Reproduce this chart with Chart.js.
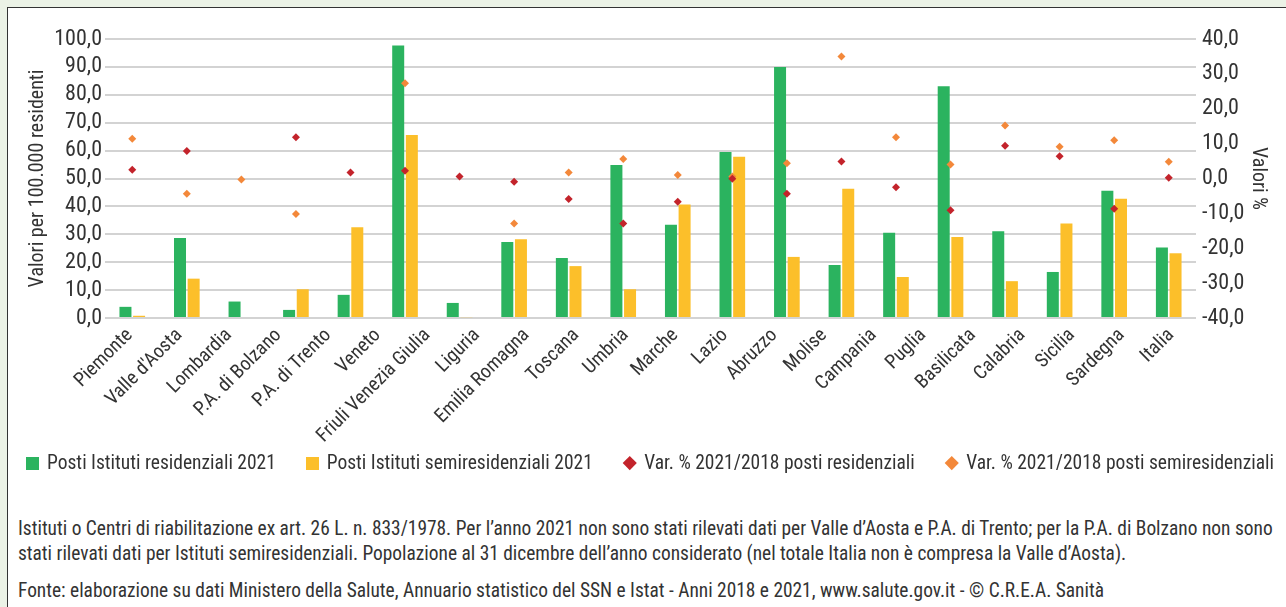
<!DOCTYPE html>
<html lang="it">
<head>
<meta charset="utf-8">
<script src="https://cdn.jsdelivr.net/npm/chart.js@4.4.1/dist/chart.umd.min.js"></script>
<style>
  html, body { margin: 0; padding: 0; background: #ebf2e6; width: 1286px; height: 607px; overflow: hidden; }
  #panel { position: absolute; left: 7px; top: 7px; width: 1290px; height: 610px; background: #fff; border: 1px solid #333; box-sizing: border-box; }
  #wrap { position: absolute; left: 0px; top: 0px; width: 1279px; height: 450px; }
  .note { position: absolute; left: 10px; margin: 0; font-family: 'Roboto Condensed', sans-serif; font-size: 19.4px; color: #333; line-height: 25px; white-space: nowrap; }
  #legenda { position: absolute; left: 18px; top: 443px; width: 1248px; display: flex; justify-content: space-between;
    font-family: 'Roboto Condensed', sans-serif; font-size: 19.5px; line-height: 24px; color: #333; white-space: nowrap; }
  #legenda span.voce { display: flex; align-items: center; }
  #legenda i { display: inline-block; width: 13px; height: 13px; margin-right: 8px; }
  #legenda i.rombo { width: 9.5px; height: 9.5px; transform: rotate(45deg); margin-left: 2px; margin-right: 10px; }
</style>
</head>
<body>
<div id="panel">
  <div id="wrap"><canvas id="grafico"></canvas></div>
  <div id="legenda"></div>
  <p class="note" style="top: 508px;">Istituti o Centri di riabilitazione ex art. 26 L. n. 833/1978. Per l’anno 2021 non sono stati rilevati dati per Valle d’Aosta e P.A. di Trento; per la P.A. di Bolzano non sono<br>stati rilevati dati per Istituti semiresidenziali. Popolazione al 31 dicembre dell’anno considerato (nel totale Italia non è compresa la Valle d’Aosta).</p>
  <p class="note" style="top: 570px;">Fonte: elaborazione su dati Ministero della Salute, Annuario statistico del SSN e Istat - Anni 2018 e 2021, www.salute.gov.it - © C.R.E.A. Sanità</p>
</div>
<script>
// etichette dell'asse x (come stampate nel grafico)
const etichette = ['Piemonte', "Valle d'Aosta", 'Lombardia', 'P.A. di Bolzano', 'P.A. di Trento', 'Veneto',
  'Friuli Venezia Giulia', 'Liguria', 'Emilia Romagna', 'Toscana', 'Umbria', 'Marche', 'Lazio', 'Abruzzo',
  'Molise', 'Campania', 'Puglia', 'Basilicata', 'Calabria', 'Sicilia', 'Sardegna', 'Italia'];

// regioni con dati 2021 (senza Valle d'Aosta e P.A. di Trento)
const regioni = ['Piemonte', 'Lombardia', 'P.A. di Bolzano', 'Veneto', 'Friuli Venezia Giulia', 'Liguria',
  'Emilia Romagna', 'Toscana', 'Umbria', 'Marche', 'Lazio', 'Abruzzo', 'Molise', 'Campania', 'Puglia',
  'Basilicata', 'Calabria', 'Sicilia', 'Sardegna', 'Italia'];

const postiResidenziali = [4.0, 28.7, 5.9, 2.9, 8.3, 97.7, 5.4, 27.2, 21.5, 54.8, 33.4, 59.5, 90.0, 19.0, 30.6, 83.1, 31.1, 16.5, 45.6, 25.3];
const postiSemiresidenziali = [0.8, 14.1, null, 10.3, 32.5, 65.6, 0.3, 28.2, 18.6, 10.3, 40.7, 57.8, 21.9, 46.3, 14.7, 29.0, 13.2, 33.9, 42.7, 23.2];
const varResidenziali = [2.5, 7.9, null, 11.8, 1.7, 2.2, 0.6, -0.9, -5.9, -12.9, -6.7, -0.1, -4.4, 4.9, -2.5, -9.1, 9.4, 6.4, -8.7, 0.2];
const varSemiresidenziali = [11.4, -4.4, -0.3, -10.2, null, 27.3, null, -12.9, 1.7, 5.6, 1.0, 0.6, 4.4, 35.0, 11.8, 4.0, 15.2, 9.1, 11.0, 4.8];

const font = "'Roboto Condensed', 'DejaVu Sans Condensed', sans-serif";
const testo = '#333333';
const virgola = (v) => v.toFixed(1).replace('.', ',');

const datasets = [
  { type: 'bar', label: 'Posti Istituti residenziali 2021', data: postiResidenziali, backgroundColor: '#2bb35f',
    yAxisID: 'y', xAxisID: 'x', order: 2, barPercentage: 0.88, categoryPercentage: 0.5 },
  { type: 'bar', label: 'Posti Istituti semiresidenziali 2021', data: postiSemiresidenziali, backgroundColor: '#fcbf2a',
    yAxisID: 'y', xAxisID: 'x', order: 2, barPercentage: 0.88, categoryPercentage: 0.5 },
  { type: 'line', label: 'Var. % 2021/2018 posti residenziali', data: varResidenziali, showLine: false,
    pointStyle: 'rectRot', pointRadius: 4, pointBackgroundColor: '#c3232b', pointBorderWidth: 0, borderColor: '#c3232b', backgroundColor: '#c3232b',
    yAxisID: 'y1', xAxisID: 'x', order: 1 },
  { type: 'line', label: 'Var. % 2021/2018 posti semiresidenziali', data: varSemiresidenziali, showLine: false,
    pointStyle: 'rectRot', pointRadius: 4, pointBackgroundColor: '#f3883a', pointBorderWidth: 0, borderColor: '#f3883a', backgroundColor: '#f3883a',
    yAxisID: 'y1', xAxisID: 'x', order: 1 },
];

// legenda in HTML, costruita dai dataset
const leg = document.getElementById('legenda');
datasets.forEach((d) => {
  const voce = document.createElement('span');
  voce.className = 'voce';
  const m = document.createElement('i');
  if (d.type === 'line') m.className = 'rombo';
  m.style.background = d.backgroundColor;
  voce.appendChild(m);
  voce.appendChild(document.createTextNode(d.label));
  leg.appendChild(voce);
});

const ctx = document.getElementById('grafico').getContext('2d');
new Chart(ctx, {
  data: { labels: regioni, datasets: datasets },
  options: {
    responsive: true,
    maintainAspectRatio: false,
    animation: false,
    layout: { padding: { top: 31, left: 14, right: 13, bottom: 15 } },
    plugins: {
      tooltip: { enabled: false },
      legend: { display: false },
    },
    scales: {
      x: {
        type: 'category',
        display: false,
        offset: true,
        grid: { display: false },
      },
      xl: {
        type: 'category',
        labels: etichette,
        position: 'bottom',
        offset: true,
        grid: { display: false, drawTicks: false },
        border: { display: false },
        ticks: { color: testo, font: { family: font, size: 19.5 }, minRotation: 45, maxRotation: 45, autoSkip: false, padding: 6 },
        afterFit: (s) => { s.height = 125; },
      },
      y: {
        position: 'left',
        min: 0, max: 100,
        grid: { color: '#d3d3d3', lineWidth: 2, drawTicks: false },
        border: { display: false },
        ticks: { stepSize: 10, autoSkip: false, color: testo, font: { family: font, size: 22 }, padding: 3, callback: (v) => virgola(v) },
        title: { display: true, text: 'Valori per 100.000 residenti', color: testo, font: { family: font, size: 20 }, padding: 4 },
        afterFit: (s) => { s.width = 83; },
      },
      y1: {
        position: 'right',
        min: -40, max: 40,
        grid: { display: false, drawTicks: false },
        border: { display: false },
        ticks: { stepSize: 10, autoSkip: false, color: testo, font: { family: font, size: 22 }, padding: 6, callback: (v) => virgola(v) },
        title: { display: true, text: 'Valori %', color: testo, font: { family: font, size: 20 }, padding: 4 },
        afterFit: (s) => { s.width = 78; },
      },
    },
  },
});
</script>
</body>
</html>
